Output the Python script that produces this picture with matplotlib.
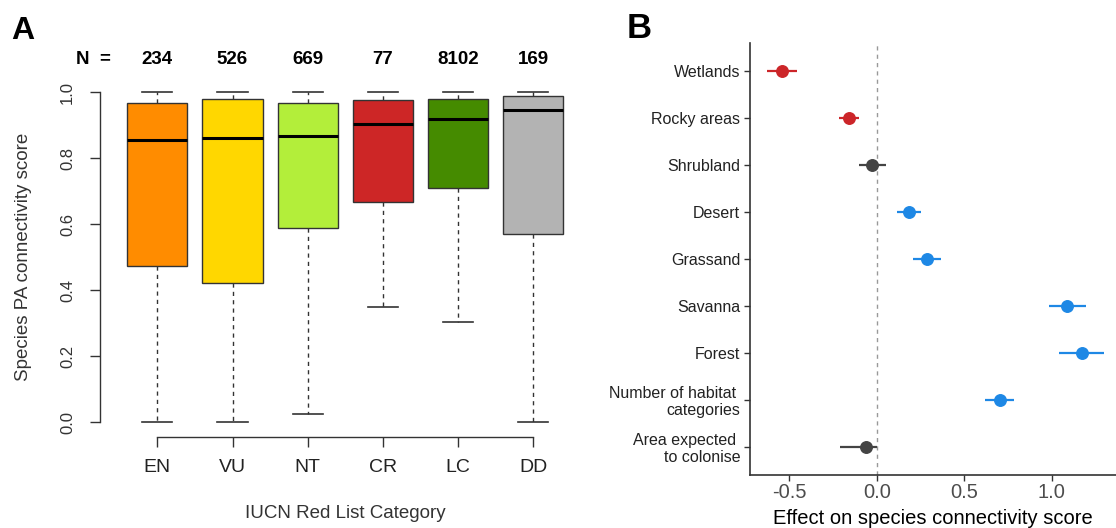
import matplotlib
matplotlib.use("Agg")
import matplotlib.pyplot as plt
import matplotlib.transforms as mtransforms

plt.rcParams['font.family'] = ['Liberation Sans', 'DejaVu Sans']

# ---- Panel A data: connectivity score per IUCN category ----
categories = ["EN", "VU", "NT", "CR", "LC", "DD"]
n_species = [234, 526, 669, 77, 8102, 169]
whisker_low = [0.0, 0.0, 0.024, 0.347, 0.302, 0.0]
q1 = [0.474, 0.420, 0.589, 0.668, 0.710, 0.571]
median = [0.855, 0.862, 0.866, 0.904, 0.918, 0.944]
q3 = [0.966, 0.980, 0.968, 0.975, 0.980, 0.989]
whisker_high = [1.0, 1.0, 1.0, 1.0, 1.0, 1.0]
box_colors = ["#FF8C00", "#FFD700", "#B3EE3A", "#CD2626", "#458B00", "#B3B3B3"]

# ---- Panel B data: model effects ----
predictors = ["Wetlands", "Rocky areas", "Shrubland", "Desert", "Grassand",
              "Savanna", "Forest", "Number of habitat \ncategories",
              "Area expected \nto colonise"]
effect = [-0.543, -0.161, -0.025, 0.184, 0.289, 1.090, 1.172, 0.703, -0.061]
ci_low = [-0.628, -0.218, -0.099, 0.114, 0.207, 0.986, 1.045, 0.619, -0.211]
ci_high = [-0.456, -0.104, 0.051, 0.251, 0.365, 1.195, 1.300, 0.788, 0.000]
effect_colors = ["#CC2529", "#CC2529", "#444444", "#1E88E5", "#1E88E5",
                 "#1E88E5", "#1E88E5", "#1E88E5", "#444444"]

W, H = 1116, 528
fig = plt.figure(figsize=(W / 100, H / 100), dpi=100)

# ================= Panel A =================
A_left, A_right, A_bottom, A_top = 100, 580, 437, 85
axA = fig.add_axes([A_left / W, (H - A_bottom) / H,
                    (A_right - A_left) / W, (A_bottom - A_top) / H])
stats = []
for i, c in enumerate(categories):
    stats.append(dict(label=c, whislo=whisker_low[i], q1=q1[i], med=median[i],
                      q3=q3[i], whishi=whisker_high[i], fliers=[]))
pos = list(range(1, len(categories) + 1))
bp = axA.bxp(stats, positions=pos, widths=0.8, patch_artist=True,
             showfliers=False,
             boxprops=dict(edgecolor="#333333", linewidth=1.0),
             medianprops=dict(color="black", linewidth=2.2, solid_capstyle="butt"),
             whiskerprops=dict(color="#333333", linewidth=1.0, linestyle=(0, (3, 3))),
             capprops=dict(color="#333333", linewidth=1.2))
for patch, col in zip(bp["boxes"], box_colors):
    patch.set_facecolor(col)
for cap in bp["caps"]:
    x = cap.get_xdata()
    mid = (x[0] + x[1]) / 2
    cap.set_xdata([mid - 0.2, mid + 0.2])

step = 75.2  # pixels between neighbouring boxes
axA.set_xlim(1 - (157.3 - A_left) / step, 1 + (A_right - 157.3) / step)
axA.set_ylim(-(A_bottom - 422) / 330, 1 + (92 - A_top) / 330)
for s in ["top", "right"]:
    axA.spines[s].set_visible(False)
axA.spines["left"].set_bounds(0, 1)
axA.spines["bottom"].set_bounds(1, 6)
for s in ["left", "bottom"]:
    axA.spines[s].set_color("#333333")
    axA.spines[s].set_linewidth(1.0)
axA.set_yticks([0, 0.2, 0.4, 0.6, 0.8, 1.0])
axA.set_yticklabels(["0.0", "0.2", "0.4", "0.6", "0.8", "1.0"], rotation=90,
                    va="center", fontsize=12)
axA.tick_params(axis="y", length=7, width=1.0, color="#333333", pad=11,
                labelcolor="#333333")
axA.set_xticks(pos)
axA.set_xticklabels(categories, fontsize=14)
axA.tick_params(axis="x", length=7, width=1.0, color="#333333", pad=9,
                labelcolor="#222222")
fig.text(23.5 / W, (H - 257) / H, "Species PA connectivity score",
         rotation=90, ha="center", va="center", fontsize=13.5, color="#333333")
fig.text(345 / W, (H - 513) / H, "IUCN Red List Category",
         ha="center", va="center", fontsize=13.5, color="#333333")

trN = mtransforms.blended_transform_factory(axA.transData, fig.transFigure)
yN = (H - 60) / H
for p, n in zip(pos, n_species):
    axA.text(p, yN, str(n), transform=trN, ha="center", va="center",
             fontsize=13.5, fontweight="bold")
fig.text(93.5 / W, yN, "N  =", ha="center", va="center", fontsize=13.5,
         fontweight="bold")

# ================= Panel B =================
B_left, B_bottom, B_top = 750, 475, 43
zero_px, unit_px = 876.7, 174.8
axB = fig.add_axes([B_left / W, (H - B_bottom) / H, (W - B_left) / W,
                    (B_bottom - B_top) / H])
ypos = list(range(1, len(predictors) + 1))
axB.axvline(0, color="#999999", linewidth=1.0, linestyle=(0, (3, 3)), zorder=1)
for y, e, lo, hi, c in zip(ypos, effect, ci_low, ci_high, effect_colors):
    axB.plot([lo, hi], [y, y], color=c, linewidth=1.6, solid_capstyle="butt",
             zorder=2)
    axB.plot([e], [y], "o", color=c, markersize=8.3, zorder=3)
axB.set_ylim(len(predictors) + 0.6, 0.4)
axB.set_xlim((B_left - zero_px) / unit_px, (W - zero_px) / unit_px)
axB.set_yticks(ypos)
axB.set_yticklabels(predictors, fontsize=11.5, color="#222222",
                    multialignment="right", linespacing=1.12)
axB.set_xticks([-0.5, 0.0, 0.5, 1.0])
axB.set_xticklabels(["-0.5", "0.0", "0.5", "1.0"], fontsize=14.5)
axB.tick_params(axis="y", length=4, width=1.0, color="#333333", pad=3)
axB.tick_params(axis="x", length=4, width=1.0, color="#333333", pad=2,
                labelcolor="#4D4D4D")
for s in ["top", "right"]:
    axB.spines[s].set_visible(False)
for s in ["left", "bottom"]:
    axB.spines[s].set_color("#333333")
    axB.spines[s].set_linewidth(1.2)
fig.text((B_left + W) / 2 / W, (H - 518) / H,
         "Effect on species connectivity score", ha="center", va="center",
         fontsize=14.5)

# Panel letters
fig.text(23 / W, (H - 31) / H, "A", fontsize=23, fontweight="bold",
         ha="center", va="center")
fig.text(639 / W, (H - 28) / H, "B", fontsize=25, fontweight="bold",
         ha="center", va="center")

fig.savefig("out.png", dpi=100)
